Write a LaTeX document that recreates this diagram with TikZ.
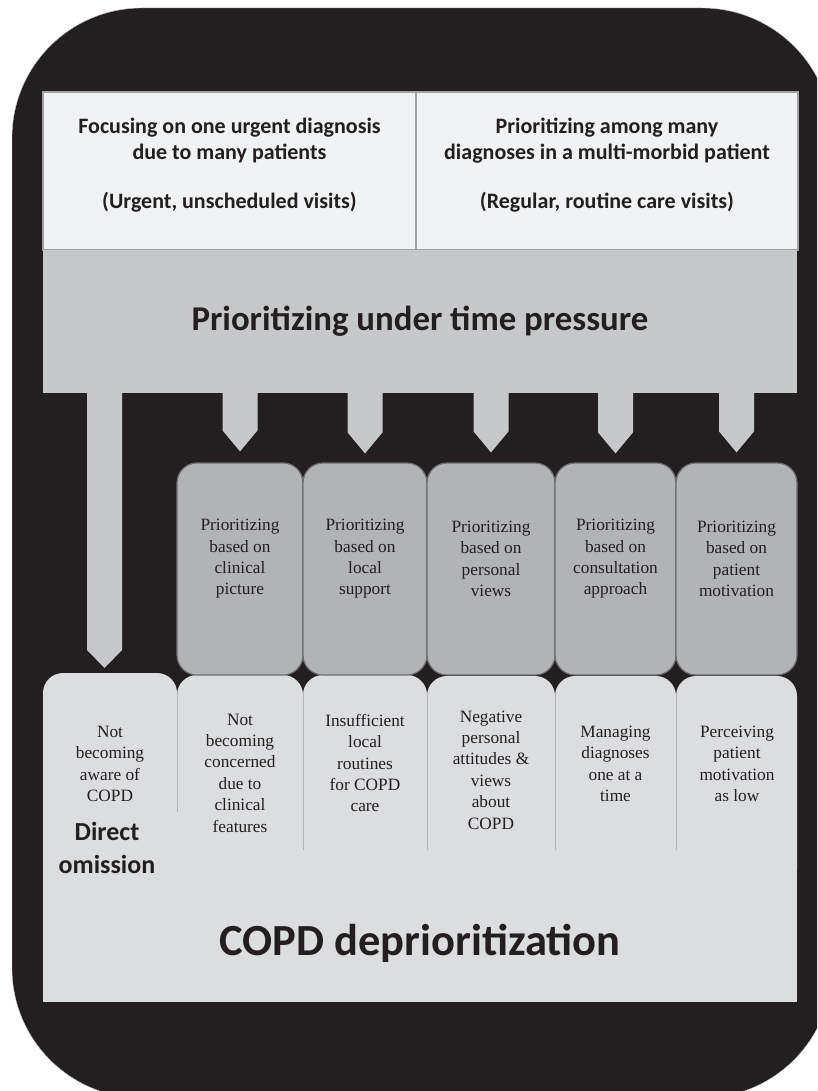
\documentclass[tikz,border=0pt]{standalone}
\usepackage{fontspec}
\setmainfont{Liberation Serif}
\newfontfamily\headfont{Carlito}
\usepackage{tikz}
\usetikzlibrary{calc}
\definecolor{framebg}{HTML}{231F20}
\definecolor{headfill}{HTML}{F1F2F3}
\definecolor{headline}{HTML}{A0A2A4}
\definecolor{bandfill}{HTML}{C7C8CA}
\definecolor{midfill}{HTML}{B1B3B6}
\definecolor{midline}{HTML}{6D6E71}
\definecolor{lowfill}{HTML}{DCDDDF}
\definecolor{lowline}{HTML}{B3B4B6}
\tikzstyle{headbox}=[draw=headline, line width=1.2pt, fill=headfill, minimum height=158pt, inner sep=0pt]
\tikzstyle{headtext}=[font=\headfont\bfseries\fontsize{22}{26.7}\selectfont, align=center, text=framebg]
\tikzstyle{bandbox}=[fill=bandfill, minimum width=754pt, minimum height=143pt, inner sep=0pt, font=\headfont\bfseries\fontsize{34.8}{40}\selectfont, text=framebg]
\tikzstyle{midbox}=[draw=midline, line width=1.2pt, fill=midfill, rounded corners=20pt, minimum height=212pt, inner sep=0pt]
\tikzstyle{coltext}=[font=\fontsize{17.3}{21.4}\selectfont, align=center, text=framebg]
\tikzstyle{bigtext}=[font=\headfont\bfseries\fontsize{44.5}{50}\selectfont, text=framebg]
\newcommand{\blockarrow}[3]{
	\fill[bandfill] ($(#1)+(-17.5,0)$) -- ($(#1)+(17.5,0)$) -- ($(#2)+(17.5,-#3)$) -- (#2) -- ($(#2)+(-17.5,-#3)$) -- cycle;
}
\newcommand{\lowcolumn}[3]{
	\fill[lowfill, rounded corners=20pt] (#1,870) -- (#1,#3) -- (#2,#3) -- (#2,870);
}

\begin{document}
\begin{tikzpicture}[x=1pt,y=-1pt]
	\useasboundingbox (0,0) rectangle (817,1091);
	\clip (0,0) rectangle (817,1091);
	\draw[fill=framebg, draw=gray!45, rounded corners=130pt] (12,8) rectangle (832,1098);
	% the two kinds of visits
	\node[headbox, minimum width=373pt] (hdl) at (229.5,171) {};
	\node[headbox, minimum width=382pt] (hdr) at (607,171) {};
	\node[headtext] (hdltext) at (229.5,165) {Focusing on one urgent diagnosis\\due to many patients\\[22pt](Urgent, unscheduled visits)};
	\node[headtext] (hdrtext) at (607,165) {Prioritizing among many\\diagnoses in a multi-morbid patient\\[22pt](Regular, routine care visits)};
	\node[bandbox] (band) at (420,321.5) {Prioritizing under time pressure};
	% bottom part
	\lowcolumn{43}{177}{673}
	\lowcolumn{177}{303}{675}
	\lowcolumn{303}{427}{675}
	\lowcolumn{427}{555}{676}
	\lowcolumn{555}{676}{676}
	\lowcolumn{676}{797}{676}
	\fill[lowfill] (43,850) rectangle (797,1002);
	\draw[lowline, line width=0.8pt] (177,693) -- (177,812);
	\draw[lowline, line width=0.8pt] (303,693) -- (303,850);
	\draw[lowline, line width=0.8pt] (427,693) -- (427,850);
	\draw[lowline, line width=0.8pt] (555,693) -- (555,850);
	\draw[lowline, line width=0.8pt] (676,693) -- (676,850);
	% ways of prioritizing
	\node[midbox, minimum width=126pt] (pc1) at (240,569) {};
	\node[midbox, minimum width=124pt] (pc2) at (365,569) {};
	\node[midbox, minimum width=128pt] (pc3) at (491,569) {};
	\node[midbox, minimum width=121pt] (pc4) at (615.5,569) {};
	\node[midbox, minimum width=121pt] (pc5) at (736.5,569) {};
	\node[coltext] (pt1) at (240,559) {Prioritizing\\based on\\clinical\\picture};
	\node[coltext] (pt2) at (365,559) {Prioritizing\\based on\\local\\support};
	\node[coltext] (pt3) at (491,559) {Prioritizing\\based on\\personal\\views};
	\node[coltext] (pt4) at (615.5,559) {Prioritizing\\based on\\consultation\\approach};
	\node[coltext] (pt5) at (736.5,559) {Prioritizing\\based on\\patient\\motivation};
	% arrows out of the band
	\coordinate (tip0) at (104.5,668);
	\coordinate (tip1) at ($(pc1.north)+(0,-11)$);
	\coordinate (tip2) at ($(pc2.north)+(0,-9)$);
	\coordinate (tip3) at ($(pc3.north)+(0,-10)$);
	\coordinate (tip4) at ($(pc4.north)+(0,-9)$);
	\coordinate (tip5) at ($(pc5.north)+(0,-10)$);
	\coordinate (top0) at (band.south -| tip0);
	\coordinate (top1) at (band.south -| tip1);
	\coordinate (top2) at (band.south -| tip2);
	\coordinate (top3) at (band.south -| tip3);
	\coordinate (top4) at (band.south -| tip4);
	\coordinate (top5) at (band.south -| tip5);
	\blockarrow{top0}{tip0}{18}
	\blockarrow{top1}{tip1}{21}
	\blockarrow{top2}{tip2}{21}
	\blockarrow{top3}{tip3}{21}
	\blockarrow{top4}{tip4}{21}
	\blockarrow{top5}{tip5}{21}
	% omissions
	\node[coltext] (ow1) at (110,764) {Not\\becoming\\aware of\\COPD};
	\node[coltext] (ow2) at (240,773) {Not\\becoming\\concerned\\due to\\clinical\\features};
	\node[coltext] (ow3) at (365,763) {Insufficient\\local\\routines\\for COPD\\care};
	\node[coltext] (ow4) at (491,770) {Negative\\personal\\attitudes \&\\views\\about\\COPD};
	\node[coltext] (ow5) at (615.5,764) {Managing\\diagnoses\\one at a\\time};
	\node[coltext] (ow6) at (737,764) {Perceiving\\patient\\motivation\\as low};
	\node[font=\headfont\bfseries\fontsize{26}{33}\selectfont, align=center, text=framebg] (direct) at (107,848) {Direct\\omission};
	\node[bigtext] (deprio) at (420,943) {COPD deprioritization};
\end{tikzpicture}
\end{document}
